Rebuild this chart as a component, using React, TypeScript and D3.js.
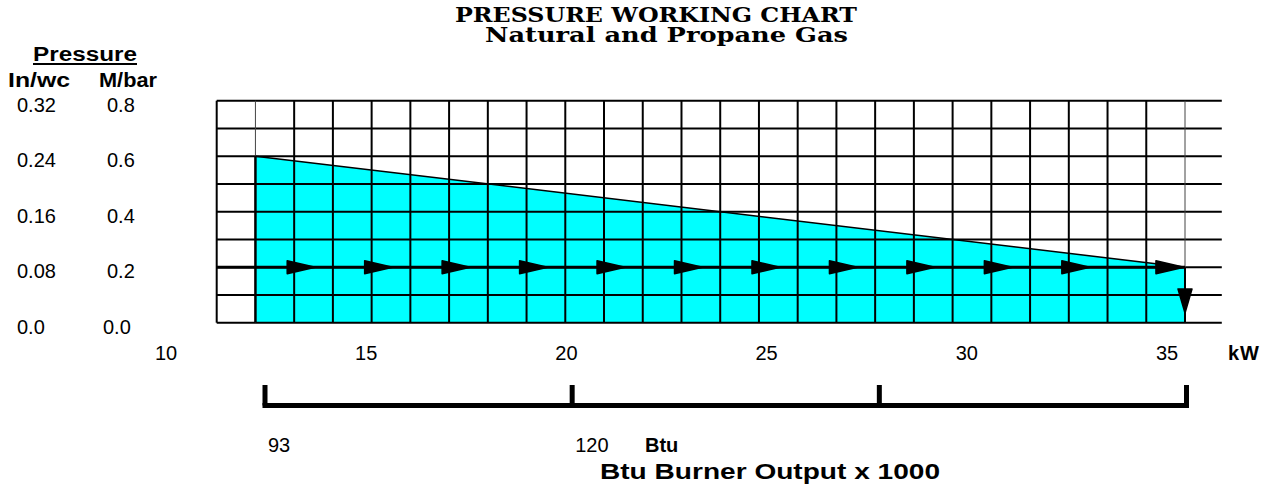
import * as d3 from 'd3'

// pressure axis (M/bar) and its twin In/wc labels
const mbarTicks = [0, 0.2, 0.4, 0.6, 0.8]
const mbarLabels = ['0.0', '0.2', '0.4', '0.6', '0.8']
const inwcLabels = ['0.0', '0.08', '0.16', '0.24', '0.32']

// kW labels along the bottom
const kwTicks = [10, 15, 20, 25, 30, 35]

// Btu bracket ticks (only the first two are labelled)
const btuLabels = ['93', '120', '', '']

// working area, in grid columns and M/bar
const areaCols = [1, 1, 25, 25]
const areaMbar = [0, 0.6, 0.2, 0]

// flow line with its arrowheads (back of each head, grid columns)
const flowMbar = 0.2
const arrowCols = [1.82, 3.82, 5.82, 7.82, 9.82, 11.82, 13.82, 15.82, 17.82, 19.82, 21.82, 24.25]
const dropTipMbar = 0.035

const W = 1273
const H = 484
const NCOLS = 25
const GRID_END = 25.95

export default function App() {
  const gx = d3.scaleLinear().domain([0, NCOLS]).range([216.7, 1185])
  const y = d3.scaleLinear().domain([0, 0.8]).range([322.7, 100.7])
  const kw = d3.scaleLinear().domain([10, 35]).range([166, 1167])
  const bx = d3.scaleLinear().domain([0, btuLabels.length - 1]).range([265, 1186.5])

  const rows = y.ticks(8)
  const cols = d3.range(NCOLS + 1)

  const area = d3.line<number>()
    .x((_, i) => gx(areaCols[i]))
    .y(d => y(d))
  const areaPath = area(areaMbar) + 'Z'

  const yf = y(flowMbar)
  const headLen = 28
  const sans = 'Liberation Sans, Arial, sans-serif'
  const serif = 'DejaVu Serif, serif'

  return (
    <svg width={W} height={H} style={{ position: 'absolute', left: 0, top: 0, background: '#fff' }}>
      {/* title */}
      <g fontFamily={serif} fontWeight="bold" fill="#000">
        <text x={455} y={22} fontSize={21} textLength={402} lengthAdjust="spacingAndGlyphs">PRESSURE WORKING CHART</text>
        <text x={485} y={42} fontSize={21} textLength={363} lengthAdjust="spacingAndGlyphs">Natural and Propane Gas</text>
      </g>

      {/* pressure headings */}
      <g fontFamily={sans} fontWeight="bold" fill="#000">
        <text x={33} y={61} fontSize={20} textLength={104} lengthAdjust="spacingAndGlyphs">Pressure</text>
        <line x1={33} x2={137} y1={64} y2={64} stroke="#000" strokeWidth={2} />
        <text x={8} y={87} fontSize={20} textLength={62} lengthAdjust="spacingAndGlyphs">In/wc</text>
        <text x={99} y={87} fontSize={20} textLength={58} lengthAdjust="spacingAndGlyphs">M/bar</text>
      </g>

      {/* y labels */}
      <g fontFamily={sans} fontSize={20} fill="#000">
        {mbarTicks.map((v, i) => (
          <g key={v}>
            <text x={17} y={y(v) + 11}>{inwcLabels[i]}</text>
            <text x={i === 0 ? 103 : 107} y={y(v) + 11}>{mbarLabels[i]}</text>
          </g>
        ))}
      </g>

      {/* working area */}
      <path d={areaPath} fill="#00ffff" stroke="none" />

      {/* grid */}
      <g stroke="#000" strokeWidth={2}>
        {rows.map(r => (
          <line key={'r' + r} x1={gx(0)} x2={gx(GRID_END)} y1={y(r)} y2={y(r)} />
        ))}
        {cols.map(c => {
          const thin = c === areaCols[0] || c === NCOLS
          return (
            <line key={'c' + c} x1={gx(c)} x2={gx(c)} y1={y(0.8)} y2={y(0)}
              stroke={thin ? '#444' : '#000'} strokeWidth={thin ? 1 : 2} />
          )
        })}
      </g>

      {/* area outline */}
      <line x1={gx(areaCols[0])} x2={gx(areaCols[1])} y1={y(areaMbar[0])} y2={y(areaMbar[1])} stroke="#000" strokeWidth={2.5} />
      <line x1={gx(areaCols[1])} x2={gx(areaCols[2])} y1={y(areaMbar[1])} y2={y(areaMbar[2])} stroke="#000" strokeWidth={1.5} />

      {/* flow line with arrows */}
      <line x1={gx(0)} x2={gx(NCOLS)} y1={yf} y2={yf} stroke="#000" strokeWidth={3} />
      {arrowCols.map(c => {
        const x0 = gx(c)
        return (
          <polygon key={c} points={`${x0},${yf - 6.5} ${x0 + headLen},${yf} ${x0},${yf + 6.5}`}
            fill="#000" stroke="#000" strokeWidth={1.5} strokeLinejoin="round" />
        )
      })}
      <line x1={gx(NCOLS)} x2={gx(NCOLS)} y1={yf} y2={y(0)} stroke="#000" strokeWidth={2} />
      <polygon points={`${gx(NCOLS) - 7},${y(dropTipMbar) - 24} ${gx(NCOLS) + 7},${y(dropTipMbar) - 24} ${gx(NCOLS)},${y(dropTipMbar)}`}
        fill="#000" stroke="#000" strokeWidth={1.5} strokeLinejoin="round" />

      {/* kW labels */}
      <g fontFamily={sans} fontSize={20} fill="#000" textAnchor="middle">
        {kwTicks.map(k => (
          <text key={k} x={kw(k)} y={360}>{k}</text>
        ))}
      </g>
      <text x={1228} y={360} fontFamily={sans} fontSize={20} fontWeight="bold" letterSpacing={1}>kW</text>

      {/* Btu bracket */}
      <g stroke="#000" strokeWidth={5} fill="none">
        <line x1={bx(0) - 2.5} x2={bx(btuLabels.length - 1) + 2.5} y1={405.5} y2={405.5} />
        {btuLabels.map((_, i) => (
          <line key={i} x1={bx(i)} x2={bx(i)} y1={385} y2={405.5} />
        ))}
      </g>
      <g fontFamily={sans} fontSize={20} fill="#000">
        {btuLabels.map((l, i) => (
          <text key={i} x={bx(i) + 3} y={452}>{l}</text>
        ))}
        <text x={645} y={452} fontWeight="bold">Btu</text>
        <text x={600} y={479} fontWeight="bold" fontSize={22} textLength={340} lengthAdjust="spacingAndGlyphs">Btu Burner Output x 1000</text>
      </g>
    </svg>
  )
}
